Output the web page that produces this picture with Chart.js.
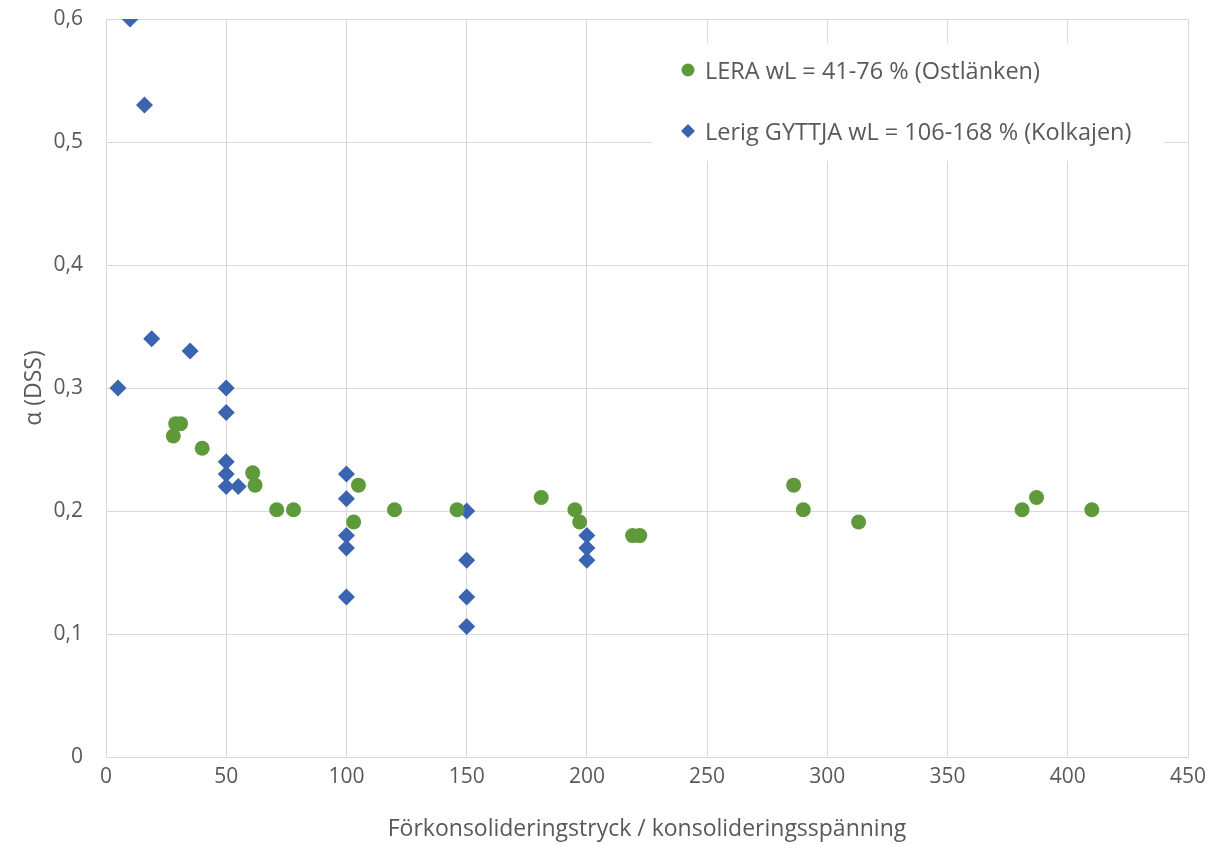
<!DOCTYPE html>
<html>
<head>
<meta charset="utf-8">
<script src="https://cdn.jsdelivr.net/npm/chart.js@4/dist/chart.umd.min.js"></script>
<style>
  html, body { margin: 0; padding: 0; background: #fff; }
  canvas { display: block; }
</style>
</head>
<body>
<canvas id="chart" width="1207" height="845"></canvas>
<script>
// ============================
// data
const leraLabel = "LERA wL = 41-76 % (Ostlänken)";
const leraX = [29, 31, 28, 40, 61, 62, 71, 78, 105, 103, 120, 146, 181, 195, 197, 219, 222, 286, 290, 313, 381, 387, 410];
const leraY = [0.271, 0.271, 0.261, 0.251, 0.231, 0.221, 0.201, 0.201, 0.221, 0.191, 0.201, 0.201, 0.211, 0.201, 0.191, 0.18, 0.18, 0.221, 0.201, 0.191, 0.201, 0.211, 0.201];

const gyttjaLabel = "Lerig GYTTJA wL = 106-168 % (Kolkajen)";
const gyttjaX = [10, 16, 19, 35, 5, 50, 50, 50, 50, 50, 55, 100, 100, 100, 100, 100, 150, 150, 150, 150, 200, 200, 200];
const gyttjaY = [0.6, 0.53, 0.34, 0.33, 0.3, 0.3, 0.28, 0.24, 0.23, 0.22, 0.22, 0.23, 0.21, 0.18, 0.17, 0.13, 0.2, 0.16, 0.13, 0.106, 0.18, 0.17, 0.16];

const xTitle = "Förkonsolideringstryck / konsolideringsspänning";
const yTitle = "α (DSS)";

const green = "#5f9a3a";
const blue = "#3b64b0";
const textGrey = "#595959";
const gridGrey = "#d9d9d9";
const fontFamily = "'Open Sans', sans-serif";

function toPoints(xs, ys) {
  return xs.map((x, i) => ({ x: x, y: ys[i] }));
}

// ============================
// legend box in the top right of the plot, like Excel
const boxLegend = {
  id: "boxLegend",
  afterDraw(chart) {
    const ctx = chart.ctx;
    ctx.save();
    ctx.fillStyle = "#fff";
    ctx.fillRect(652, 43, 512, 118);

    ctx.font = "23.5px " + fontFamily;
    ctx.textBaseline = "middle";

    // green circle
    ctx.beginPath();
    ctx.arc(688, 70, 6.5, 0, Math.PI * 2);
    ctx.fillStyle = green;
    ctx.fill();
    ctx.fillStyle = textGrey;
    ctx.fillText(leraLabel, 705, 72);

    // blue diamond
    ctx.beginPath();
    ctx.moveTo(688, 124);
    ctx.lineTo(695, 131);
    ctx.lineTo(688, 138);
    ctx.lineTo(681, 131);
    ctx.closePath();
    ctx.fillStyle = blue;
    ctx.fill();
    ctx.fillStyle = textGrey;
    ctx.fillText(gyttjaLabel, 705, 133);
    ctx.restore();
  }
};

// ============================
new Chart(document.getElementById("chart"), {
  type: "scatter",
  data: {
    datasets: [
      {
        label: leraLabel,
        data: toPoints(leraX, leraY),
        pointStyle: "circle",
        pointRadius: 7.5,
        pointHoverRadius: 7.5,
        backgroundColor: green,
        borderColor: green,
        borderWidth: 0
      },
      {
        label: gyttjaLabel,
        data: toPoints(gyttjaX, gyttjaY),
        pointStyle: "rectRot",
        pointRadius: 8.5,
        pointHoverRadius: 8.5,
        backgroundColor: blue,
        borderColor: blue,
        borderWidth: 0
      }
    ]
  },
  options: {
    responsive: false,
    animation: false,
    layout: { padding: { left: 17, right: 19, top: 19, bottom: 0 } },
    plugins: {
      legend: { display: false },
      tooltip: { enabled: false }
    },
    scales: {
      x: {
        type: "linear",
        min: 0,
        max: 450,
        ticks: {
          stepSize: 50,
          padding: 7,
          color: textGrey,
          font: { family: fontFamily, size: 21 }
        },
        grid: { color: gridGrey, lineWidth: 1, drawTicks: false },
        border: { color: gridGrey },
        title: {
          display: true,
          text: xTitle,
          color: textGrey,
          font: { family: fontFamily, size: 23 },
          padding: { top: 4, bottom: 2 }
        },
        afterFit(scale) {
          scale.height = 845 - 757;
          scale.paddingLeft = 0;
          scale.paddingRight = 0;
        }
      },
      y: {
        type: "linear",
        min: 0,
        max: 0.6,
        ticks: {
          stepSize: 0.1,
          padding: 23,
          color: textGrey,
          font: { family: fontFamily, size: 21 },
          callback: v => (Math.round(v * 10) / 10).toString().replace(".", ",")
        },
        grid: { color: gridGrey, lineWidth: 1, drawTicks: false },
        border: { color: gridGrey },
        title: {
          display: true,
          text: yTitle,
          color: textGrey,
          font: { family: fontFamily, size: 23 },
          padding: { top: 4, bottom: 4 }
        },
        afterFit(scale) {
          scale.width = 106 - 17;
          scale.paddingTop = 0;
          scale.paddingBottom = 0;
        }
      }
    }
  },
  plugins: [boxLegend]
});
</script>
</body>
</html>
